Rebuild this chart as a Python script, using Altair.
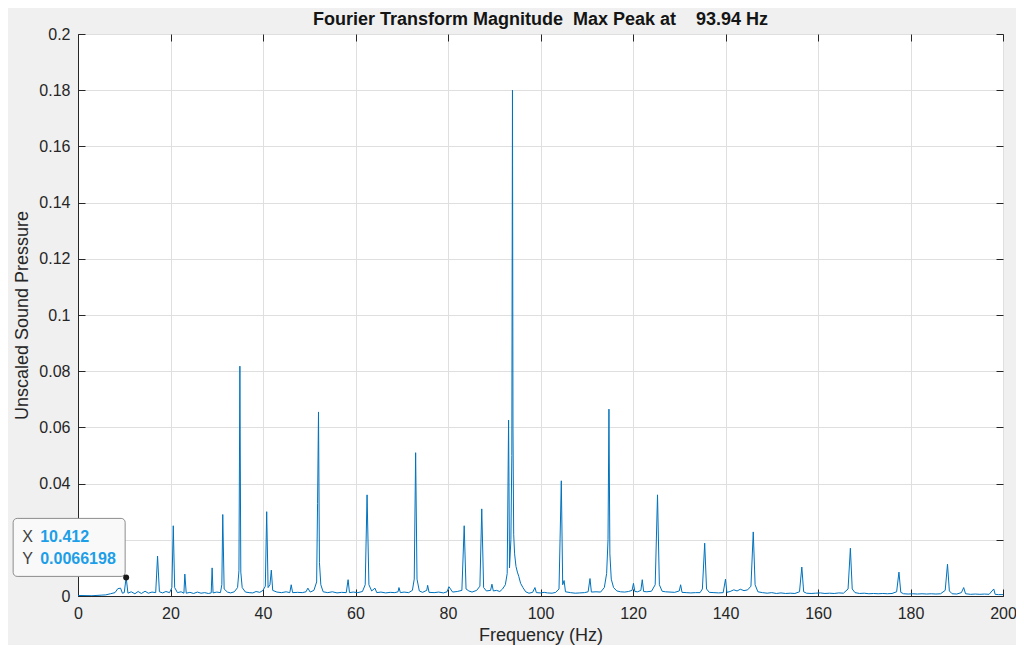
import altair as alt
import pandas as pd

# Spectrum samples (Hz, magnitude)
freq = [0, 3, 5, 6, 7, 8, 8.6, 9.2, 9.6, 10.0, 10.412, 10.8, 11.5, 12.3, 13, 13.7, 14.5, 15.2, 16, 16.8,
        17.2, 17.6, 18.3, 19, 19.8, 20.3, 20.6, 20.9, 21.5, 22.3, 22.9, 23.1, 23.4, 24.2, 25, 25.8,
        26.6, 27.4, 28.2, 28.8, 29.0, 29.2, 30, 30.8, 31.1, 31.3, 31.6, 32.3, 33, 33.8, 34.5, 34.8,
        35.0, 35.2, 35.5, 36.2, 37, 37.8, 38.5, 39.3, 40, 40.5, 40.8, 41.1, 41.5, 41.8, 42.1, 43, 44,
        45, 45.8, 46.1, 46.4, 47.5, 48.5, 49.3, 49.7, 50.2, 51, 51.6, 51.8, 52.0, 52.2, 52.5, 53, 54,
        55, 56, 57, 58, 58.4, 58.7, 59.5, 60.5, 61.5, 62.1, 62.5, 62.9, 63.5, 64.2, 64.6, 65.5, 66.5,
        67.5, 68.5, 69.2, 69.4, 69.7, 70.5, 71.5, 72.3, 72.7, 73.0, 73.3, 73.8, 74.5, 75.4, 75.6, 75.9,
        77, 78, 79, 79.8, 80.2, 81, 82, 83, 83.5, 83.9, 84.5, 85.2, 86.2, 86.9, 87.3, 87.7, 88.3, 89.2,
        89.5, 89.8, 90.5, 91.2, 91.8, 92.4, 92.8, 93.1, 93.3, 93.6, 93.8, 93.94, 94.05, 94.2, 94.4,
        94.7, 95.0, 95.3, 95.7, 96.2, 96.8, 97.5, 98.3, 98.8, 99.1, 100, 100.8, 101.5, 102.5, 103.3,
        104, 104.5, 104.8, 105.1, 105.4, 106.5, 107.5, 108.5, 109.5, 110.3, 110.7, 111, 112, 113,
        113.8, 114.3, 114.6, 114.8, 115.0, 115.3, 115.8, 116.5, 117.3, 118.2, 119, 119.8, 120.1, 120.4,
        121, 121.7, 122.0, 122.3, 123, 124, 124.8, 125.3, 125.7, 126.3, 127, 128, 129, 130, 130.3,
        130.6, 131.5, 132.5, 133.5, 134.5, 135, 135.5, 135.9, 136.5, 137.5, 138.5, 139.5, 140.0, 140.3,
        141, 141.8, 142.5, 143.2, 144, 144.8, 145.5, 146.0, 146.4, 147, 148, 149, 150, 151, 152, 153,
        154, 155, 156, 156.5, 156.9, 157.5, 158.5, 159.5, 160.5, 161.5, 162.5, 163.5, 164.5, 165.5,
        166.5, 167, 167.4, 168, 169, 170, 171, 172, 173, 174, 175, 176, 177, 177.5, 177.9, 178.5,
        179.5, 180.5, 181.5, 182.5, 183.5, 184.5, 185.5, 186.5, 187.5, 188, 188.4, 189, 190, 191,
        191.5, 191.9, 193, 194, 195, 196, 197, 198, 198.3, 199, 200]
mag = [0.0002, 0.0001, 0.0003, 0.0004, 0.0008, 0.0012, 0.0026, 0.0028, 0.0010, 0.0012, 0.0066198,
       0.0010, 0.0015, 0.0008, 0.0016, 0.0009, 0.0017, 0.0010, 0.0014, 0.0012, 0.0142, 0.0015, 0.0011,
       0.0016, 0.0012, 0.0030, 0.0250, 0.0030, 0.0012, 0.0015, 0.0010, 0.0078, 0.0010, 0.0013, 0.0009,
       0.0014, 0.0010, 0.0012, 0.0009, 0.0011, 0.0100, 0.0011, 0.0014, 0.0012, 0.0040, 0.0290, 0.0025,
       0.0014, 0.0011, 0.0015, 0.0030, 0.0090, 0.0818, 0.0085, 0.0030, 0.0014, 0.0012, 0.0011, 0.0016,
       0.0013, 0.0020, 0.0035, 0.0300, 0.0030, 0.0040, 0.0092, 0.0020, 0.0014, 0.0012, 0.0015, 0.0012,
       0.0040, 0.0012, 0.0013, 0.0012, 0.0015, 0.0028, 0.0014, 0.0020, 0.0050, 0.0330, 0.0655, 0.0120,
       0.0040, 0.0015, 0.0012, 0.0015, 0.0011, 0.0013, 0.0012, 0.0058, 0.0012, 0.0014, 0.0012, 0.0016,
       0.0040, 0.0360, 0.0040, 0.0018, 0.0028, 0.0012, 0.0014, 0.0011, 0.0013, 0.0012, 0.0015, 0.0030,
       0.0012, 0.0014, 0.0012, 0.0020, 0.0060, 0.0510, 0.0060, 0.0018, 0.0013, 0.0020, 0.0038, 0.0013,
       0.0012, 0.0014, 0.0011, 0.0015, 0.0033, 0.0014, 0.0016, 0.0020, 0.0250, 0.0025, 0.0018, 0.0014,
       0.0020, 0.0035, 0.0310, 0.0030, 0.0018, 0.0020, 0.0042, 0.0018, 0.0020, 0.0016, 0.0025, 0.0040,
       0.0080, 0.0626, 0.0100, 0.0200, 0.0500, 0.1800, 0.0600, 0.0220, 0.0150, 0.0105, 0.0085, 0.0070,
       0.0045, 0.0030, 0.0015, 0.0010, 0.0013, 0.0030, 0.0012, 0.0011, 0.0013, 0.0011, 0.0010, 0.0013,
       0.0025, 0.0410, 0.0040, 0.0055, 0.0015, 0.0012, 0.0010, 0.0011, 0.0012, 0.0015, 0.0062, 0.0014,
       0.0015, 0.0014, 0.0030, 0.0080, 0.0200, 0.0665, 0.0150, 0.0060, 0.0030, 0.0018, 0.0015, 0.0014,
       0.0016, 0.0020, 0.0045, 0.0016, 0.0015, 0.0020, 0.0058, 0.0016, 0.0015, 0.0017, 0.0040, 0.0360,
       0.0040, 0.0017, 0.0015, 0.0014, 0.0013, 0.0018, 0.0040, 0.0013, 0.0012, 0.0011, 0.0012, 0.0012,
       0.0025, 0.0188, 0.0025, 0.0013, 0.0012, 0.0011, 0.0012, 0.0060, 0.0013, 0.0016, 0.0022, 0.0018,
       0.0024, 0.0019, 0.0022, 0.0035, 0.0228, 0.0040, 0.0015, 0.0012, 0.0010, 0.0012, 0.0009, 0.0011,
       0.0009, 0.0010, 0.0009, 0.0015, 0.0103, 0.0015, 0.0010, 0.0009, 0.0010, 0.0011, 0.0009, 0.0010,
       0.0009, 0.0011, 0.0010, 0.0025, 0.0170, 0.0025, 0.0012, 0.0009, 0.0010, 0.0008, 0.0009, 0.0008,
       0.0009, 0.0008, 0.0009, 0.0015, 0.0085, 0.0013, 0.0008, 0.0007, 0.0008, 0.0007, 0.0008, 0.0007,
       0.0008, 0.0007, 0.0008, 0.0020, 0.0113, 0.0018, 0.0008, 0.0007, 0.0012, 0.0030, 0.0008, 0.0006,
       0.0007, 0.0006, 0.0007, 0.0006, 0.0025, 0.0006, 0.0005, 0.0005]

x_ticks = [0, 20, 40, 60, 80, 100, 120, 140, 160, 180, 200]
y_ticks = [0, 0.02, 0.04, 0.06, 0.08, 0.1, 0.12, 0.14, 0.16, 0.18, 0.2]

tip_x = [10.412]
tip_y = [0.0066198]
tip_xlabel = ["10.412"]
tip_ylabel = ["0.0066198"]

title_text = "Fourier Transform Magnitude\u00a0\u00a0Max Peak at\u00a0\u00a0\u00a0\u00a093.94 Hz"

df = pd.DataFrame({"f": freq, "m": mag})
tip = pd.DataFrame({"f": tip_x, "m": tip_y, "xl": tip_xlabel, "yl": tip_ylabel})

FONT = "Liberation Sans"
DARK = "#262626"

xs = alt.Scale(domain=[0, 200], nice=False)
ys = alt.Scale(domain=[0, 0.2], nice=False)

main = alt.Chart(df).mark_line(color="#0072bd", strokeWidth=1, clip=True).encode(
    x=alt.X("f:Q", scale=xs, title="Frequency (Hz)",
            axis=alt.Axis(values=x_ticks, grid=True, ticks=False, labelPadding=9,
                          labelFlush=False, titlePadding=5)),
    y=alt.Y("m:Q", scale=ys, title="Unscaled Sound Pressure",
            axis=alt.Axis(values=y_ticks, grid=True, ticks=False, format="~g",
                          labelFlush=False, labelPadding=8, titlePadding=7)),
)

tick_axis_x = dict(values=x_ticks, grid=False, labels=False, domain=False, ticks=True,
                   tickSize=7, offset=-7, tickColor=DARK, title=None)
tick_axis_y = dict(values=y_ticks, grid=False, labels=False, domain=False, ticks=True,
                   tickSize=7, offset=-7, tickColor=DARK, title=None)

ticks_bl = alt.Chart(df).mark_line(opacity=0).encode(
    x=alt.X("f:Q", scale=xs, axis=alt.Axis(orient="bottom", **tick_axis_x)),
    y=alt.Y("m:Q", scale=ys, axis=alt.Axis(orient="left", **tick_axis_y)),
)
ticks_tr = alt.Chart(df).mark_line(opacity=0).encode(
    x=alt.X("f:Q", scale=xs, axis=alt.Axis(orient="top", **tick_axis_x)),
    y=alt.Y("m:Q", scale=ys, axis=alt.Axis(orient="right", **tick_axis_y)),
)

box = alt.Chart(tip).mark_rect(
    fill="#f9f9f9", stroke="#8c8c8c", strokeWidth=1, cornerRadius=4, clip=False,
    xOffset=-113, x2Offset=-1, yOffset=-59, y2Offset=-1,
).encode(
    x=alt.X("f:Q", scale=xs, axis=None), x2="f:Q",
    y=alt.Y("m:Q", scale=ys, axis=None), y2="m:Q",
)
dot = alt.Chart(tip).mark_point(filled=True, color="#1a1a1a", size=36, opacity=1, clip=False).encode(
    x=alt.X("f:Q", scale=xs, axis=None), y=alt.Y("m:Q", scale=ys, axis=None),
)

def tip_text(text_field, dx, dy, color, bold):
    return alt.Chart(tip).mark_text(
        align="left", baseline="middle", dx=dx, dy=dy, font=FONT, fontSize=16,
        fontWeight="bold" if bold else "normal", color=color, clip=False,
    ).encode(
        x=alt.X("f:Q", scale=xs, axis=None), y=alt.Y("m:Q", scale=ys, axis=None),
        text=text_field,
    )

t_xl = tip_text(alt.value("X"), -104, -40, "#404040", False)
t_yl = tip_text(alt.value("Y"), -104, -18, "#404040", False)
t_xv = tip_text("xl:N", -86, -40, "#1c9ee8", True)
t_yv = tip_text("yl:N", -86, -18, "#1c9ee8", True)

chart = alt.layer(main, ticks_bl, ticks_tr, box, dot, t_xl, t_yl, t_xv, t_yv).resolve_axis(
    x="independent", y="independent"
).properties(
    width=925, height=562,
    padding={"left": 70, "top": 26, "right": 13, "bottom": 49},
    autosize=alt.AutoSizeParams(type="none"),
    background="#f0f0f0",
    title=alt.TitleParams(title_text, font=FONT, fontSize=18, fontWeight="bold",
                          color="#141414", anchor="middle", offset=-3),
).configure_view(
    fill="white", stroke=DARK, strokeWidth=1,
).configure_axis(
    labelFont=FONT, labelFontSize=16, labelColor=DARK,
    titleFont=FONT, titleFontSize=18, titleColor=DARK, titleFontWeight="normal",
    domainColor=DARK, gridColor="#dfdfdf", gridWidth=1,
)

chart.save("out.html", embed_options={"renderer": "svg", "actions": False})
